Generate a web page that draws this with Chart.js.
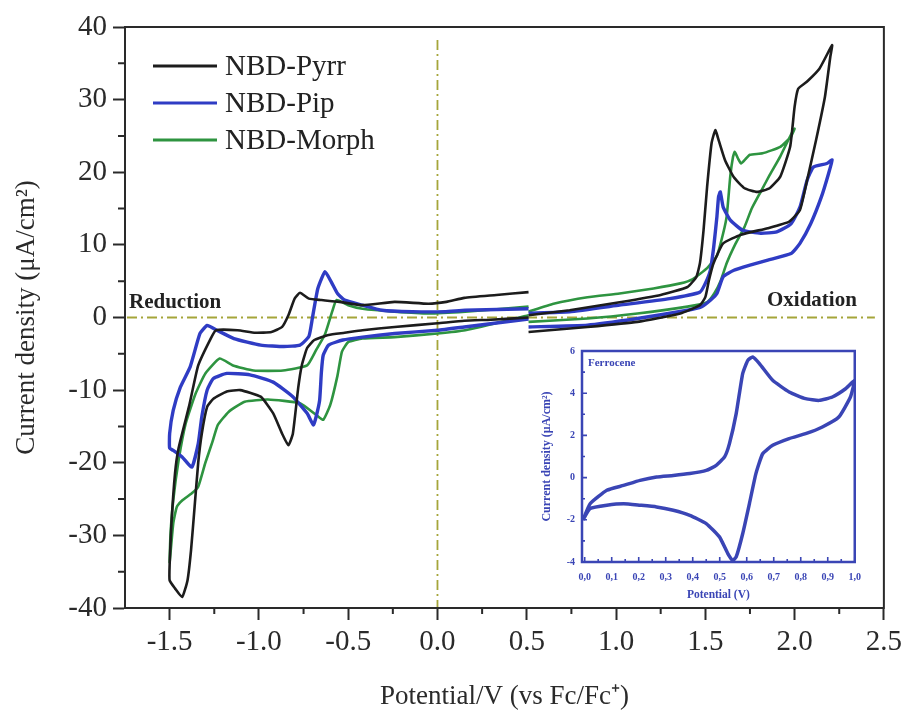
<!DOCTYPE html>
<html>
<head>
<meta charset="utf-8">
<title>NBD cyclic voltammetry</title>
<script src="https://cdn.jsdelivr.net/npm/chart.js@4.4.1/dist/chart.umd.min.js"></script>
<style>
  body { margin: 0; background: #fff; }
  #wrap { position: relative; width: 907px; height: 713px; }
  #mainChart { position: absolute; left: 0; top: 0; }
  #insetChart { position: absolute; left: 530px; top: 335px; }
</style>
</head>
<body>
<div id="wrap">
  <canvas id="mainChart" width="907" height="713"></canvas>
  <canvas id="insetChart" width="340" height="275"></canvas>
</div>
<script>
'use strict';

// potential (V vs Fc/Fc+) and current density (uA/cm2), reduction and oxidation sweeps
var pyrrRedV = [0.51, 0.30, 0.15, 0.00, -0.24, -0.42, -0.52, -0.61, -0.69, -0.73, -0.76, -0.78, -0.81, -0.835, -0.87, -0.92, -0.99, -1.105, -1.18, -1.255, -1.29, -1.32, -1.34, -1.36, -1.38, -1.40, -1.43, -1.47, -1.50, -1.50, -1.49, -1.47, -1.45, -1.39, -1.34, -1.27, -1.24, -1.12, -1.02, -0.93, -0.87, -0.835, -0.80, -0.77, -0.72, -0.65, -0.55, -0.42, -0.24, -0.05, 0.05, 0.15, 0.33, 0.51];
var pyrrRedJ = [0.0, -0.3, -0.45, -0.8, -1.3, -1.75, -2.1, -2.4, -3.1, -4.2, -6.6, -9.7, -16, -17.6, -16, -13.2, -10.9, -10.0, -10.2, -11.2, -12.3, -16, -20, -26, -32, -36.2, -38.5, -37.3, -36.2, -34, -28.4, -21.5, -18, -12.1, -6.6, -2.9, -1.75, -1.75, -2.1, -2.0, -1.3, 0.3, 2.6, 3.4, 2.6, 2.4, 2.15, 1.7, 2.15, 1.9, 2.15, 2.7, 3.1, 3.5];
var pyrrOxV = [0.51, 0.74, 1.02, 1.25, 1.40, 1.45, 1.47, 1.49, 1.51, 1.535, 1.556, 1.575, 1.61, 1.66, 1.72, 1.79, 1.86, 1.92, 1.975, 2.00, 2.02, 2.07, 2.14, 2.21, 2.20, 2.17, 2.12, 2.07, 2.03, 1.97, 1.85, 1.70, 1.60, 1.545, 1.52, 1.50, 1.47, 1.36, 1.12, 0.84, 0.51];
var pyrrOxJ = [0.3, 1.0, 2.1, 3.1, 4.2, 5.6, 7.5, 12, 18, 24, 25.8, 24.4, 21.7, 19.3, 17.8, 17.3, 17.8, 19.4, 23.5, 29, 31.5, 32.5, 34.3, 37.5, 35.9, 30.4, 24.4, 18.9, 14.8, 13.2, 12.3, 11.4, 10.2, 7.4, 5.1, 2.8, 1.7, 0.55, -0.6, -1.3, -2.0];

var pipRedV = [0.51, 0.15, 0.00, -0.24, -0.42, -0.53, -0.61, -0.64, -0.65, -0.66, -0.68, -0.695, -0.73, -0.81, -0.92, -1.05, -1.18, -1.255, -1.29, -1.32, -1.34, -1.376, -1.43, -1.48, -1.50, -1.50, -1.48, -1.44, -1.385, -1.33, -1.29, -1.235, -1.14, -0.99, -0.86, -0.77, -0.72, -0.70, -0.67, -0.63, -0.595, -0.56, -0.52, -0.42, -0.31, -0.14, 0.04, 0.155, 0.51];
var pipRedJ = [-0.2, -1.3, -1.75, -2.2, -2.7, -3.1, -3.8, -5.2, -7.5, -11.4, -13.7, -14.8, -13.2, -10.9, -8.9, -7.9, -7.7, -8.4, -10, -13.7, -17.4, -20.6, -19.2, -18.3, -18.0, -16, -12.8, -9.6, -6.8, -2.2, -1.1, -1.75, -2.9, -3.8, -4.0, -3.8, -2.6, 0.0, 4.0, 6.3, 4.9, 3.3, 2.4, 1.7, 1.0, 0.8, 0.8, 1.0, 1.2];
var pipOxV = [0.51, 0.74, 1.02, 1.30, 1.47, 1.50, 1.528, 1.547, 1.565, 1.574, 1.584, 1.60, 1.64, 1.71, 1.81, 1.90, 1.98, 2.03, 2.07, 2.105, 2.18, 2.21, 2.19, 2.15, 2.09, 2.03, 1.98, 1.85, 1.75, 1.66, 1.60, 1.565, 1.53, 1.48, 1.40, 1.12, 0.84, 0.51];
var pipOxJ = [0.6, 0.8, 1.7, 2.6, 3.5, 4.7, 6.5, 9.7, 13.9, 16.6, 17.3, 15.2, 13.4, 12.0, 11.6, 11.8, 12.9, 15.2, 18.9, 20.7, 21.2, 21.7, 19.8, 16.6, 12.9, 10.2, 8.8, 7.9, 7.2, 6.5, 5.6, 3.3, 2.4, 1.5, 1.0, -0.14, -1.06, -1.3];

var morphRedV = [0.51, 0.155, 0.00, -0.24, -0.42, -0.50, -0.535, -0.56, -0.60, -0.64, -0.675, -0.77, -0.95, -1.08, -1.17, -1.23, -1.26, -1.30, -1.34, -1.376, -1.43, -1.46, -1.48, -1.50, -1.495, -1.48, -1.45, -1.41, -1.355, -1.30, -1.22, -1.145, -1.03, -0.865, -0.73, -0.68, -0.63, -0.59, -0.565, -0.50, -0.42, -0.24, -0.05, 0.155, 0.51];
var morphRedJ = [0.3, -1.75, -2.2, -2.7, -2.9, -3.4, -4.7, -8, -12, -14.1, -13.5, -11.8, -11.3, -11.6, -13, -14.8, -17.1, -20, -23.3, -24.2, -25.2, -26.1, -28.4, -33.7, -29.8, -25.2, -19.7, -14.6, -10.5, -7.7, -5.65, -6.6, -7.3, -7.3, -6.6, -4.5, -2.3, 0.8, 2.4, 1.7, 1.2, 0.8, 0.55, 0.8, 1.5];
var morphOxV = [0.51, 0.65, 0.84, 1.02, 1.21, 1.36, 1.43, 1.51, 1.565, 1.60, 1.62, 1.64, 1.655, 1.665, 1.685, 1.70, 1.725, 1.75, 1.82, 1.92, 1.98, 2.00, 1.98, 1.92, 1.86, 1.81, 1.76, 1.72, 1.67, 1.62, 1.585, 1.55, 1.51, 1.40, 1.12, 0.84, 0.51];
var morphOxJ = [0.8, 1.9, 2.8, 3.3, 4.0, 4.7, 5.3, 6.8, 8.5, 11.6, 14.0, 19.5, 22.1, 22.8, 21.8, 21.2, 21.8, 22.4, 22.6, 23.5, 24.9, 26.0, 25.2, 22.2, 19.6, 17.3, 15.0, 12.5, 10.2, 7.5, 5.0, 3.3, 2.1, 1.5, 0.55, -0.14, -0.6];

// ferrocene reference scan (inset)
var fcV = [-0.006, 0.02, 0.082, 0.144, 0.205, 0.266, 0.328, 0.389, 0.45, 0.487, 0.518, 0.536, 0.561, 0.585, 0.604, 0.622, 0.647, 0.696, 0.757, 0.818, 0.868, 0.917, 0.966, 1.0, 0.984, 0.941, 0.88, 0.818, 0.757, 0.696, 0.659, 0.634, 0.61, 0.585, 0.561, 0.548, 0.53, 0.499, 0.45, 0.389, 0.328, 0.266, 0.205, 0.144, 0.082, 0.02, -0.006];
var fcJ = [-2.0, -1.24, -0.6, -0.37, -0.13, 0.03, 0.1, 0.19, 0.34, 0.58, 0.98, 1.61, 3.03, 4.93, 5.56, 5.72, 5.4, 4.61, 4.06, 3.74, 3.66, 3.82, 4.21, 4.6, 3.82, 2.87, 2.4, 2.08, 1.85, 1.53, 1.13, 0.19, -1.23, -2.66, -3.76, -3.92, -3.6, -2.81, -2.18, -1.79, -1.55, -1.39, -1.31, -1.24, -1.31, -1.47, -2.0];

var xTickValues = [-1.5, -1.0, -0.5, 0.0, 0.5, 1.0, 1.5, 2.0, 2.5];
var xMinorValues = [-1.25, -0.75, -0.25, 0.25, 0.75, 1.25, 1.75, 2.25];
var yTickValues = [-40, -30, -20, -10, 0, 10, 20, 30, 40];
var yMinorValues = [-35, -25, -15, -5, 5, 15, 25, 35];
var insetXTickValues = [0.0, 0.1, 0.2, 0.3, 0.4, 0.5, 0.6, 0.7, 0.8, 0.9, 1.0];
var insetXMinorValues = [0.05, 0.15, 0.25, 0.35, 0.45, 0.55, 0.65, 0.75, 0.85, 0.95];
var insetYTickValues = [-4, -2, 0, 2, 4, 6];
var insetYMinorValues = [-3, -1, 1, 3, 5];

var seriesNames = ['NBD-Pyrr', 'NBD-Pip', 'NBD-Morph'];
var seriesColors = ['#1c1c1c', '#2f3cc4', '#2e9440'];
var seriesWidths = [2.6, 3.4, 2.6];

var axisColor = '#2a2a2a';
var zeroColor = '#a5a53a';
var insetBlue = '#3a45b5';
var serif = "'Liberation Serif', 'Times New Roman', serif";

Chart.defaults.font.family = serif;
Chart.defaults.color = axisColor;

function toPoints(vs, js) {
    var pts = [];
    for (var i = 0; i < vs.length; i++) {
        pts.push({ x: vs[i], y: js[i] });
    }
    return pts;
}

function curve(vs, js, color, width) {
    return {
        data: toPoints(vs, js),
        showLine: true,
        borderColor: color,
        backgroundColor: color,
        borderWidth: width,
        pointRadius: 0,
        tension: 0.15,
        fill: false
    };
}

function asTicks(values) {
    return values.map(function (v) { return { value: v }; });
}

var mainDecor = {
    id: 'mainDecor',
    beforeDatasetsDraw: function (chart) {
        var ctx = chart.ctx;
        var area = chart.chartArea;
        var x0 = chart.scales.x.getPixelForValue(0);
        var y0 = chart.scales.y.getPixelForValue(0);
        ctx.save();
        ctx.strokeStyle = zeroColor;
        ctx.lineWidth = 1.8;
        ctx.setLineDash([10, 4, 2, 4]);
        ctx.beginPath();
        ctx.moveTo(area.left + 2, y0);
        ctx.lineTo(area.right - 9, y0);
        ctx.moveTo(x0, area.top + 13);
        ctx.lineTo(x0, area.bottom);
        ctx.stroke();
        ctx.restore();
    },
    afterDraw: function (chart) {
        var ctx = chart.ctx;
        var area = chart.chartArea;
        var xs = chart.scales.x;
        var ys = chart.scales.y;
        var i, p;
        ctx.save();

        // box round the plot
        ctx.strokeStyle = axisColor;
        ctx.lineWidth = 2;
        ctx.strokeRect(area.left, area.top, area.right - area.left, area.bottom - area.top);

        // minor ticks
        ctx.beginPath();
        for (i = 0; i < xMinorValues.length; i++) {
            p = xs.getPixelForValue(xMinorValues[i]);
            ctx.moveTo(p, area.bottom);
            ctx.lineTo(p, area.bottom + 6);
        }
        for (i = 0; i < yMinorValues.length; i++) {
            p = ys.getPixelForValue(yMinorValues[i]);
            ctx.moveTo(area.left - 7, p);
            ctx.lineTo(area.left, p);
        }
        ctx.stroke();

        // legend
        ctx.font = '29px ' + serif;
        ctx.textBaseline = 'middle';
        ctx.textAlign = 'left';
        for (i = 0; i < seriesNames.length; i++) {
            var ly = area.top + 39 + i * 37;
            ctx.strokeStyle = seriesColors[i];
            ctx.lineWidth = 3;
            ctx.beginPath();
            ctx.moveTo(area.left + 28, ly);
            ctx.lineTo(area.left + 92, ly);
            ctx.stroke();
            ctx.fillStyle = '#222';
            ctx.fillText(seriesNames[i], area.left + 100, ly + 1);
        }

        // region labels
        ctx.font = 'bold 21px ' + serif;
        ctx.textBaseline = 'alphabetic';
        ctx.fillStyle = '#222';
        ctx.textAlign = 'left';
        ctx.fillText('Reduction', area.left + 4, ys.getPixelForValue(0) - 10);
        ctx.textAlign = 'right';
        ctx.fillText('Oxidation', area.right - 27, ys.getPixelForValue(0) - 12);
        ctx.restore();
    }
};

var insetDecor = {
    id: 'insetDecor',
    afterDraw: function (chart) {
        var ctx = chart.ctx;
        var area = chart.chartArea;
        var xs = chart.scales.x;
        var ys = chart.scales.y;
        var i, p;
        ctx.save();
        ctx.strokeStyle = insetBlue;
        ctx.lineWidth = 2.5;
        ctx.strokeRect(area.left, area.top, area.right - area.left, area.bottom - area.top);

        ctx.lineWidth = 1.6;
        ctx.beginPath();
        for (i = 0; i < insetXTickValues.length; i++) {
            p = xs.getPixelForValue(insetXTickValues[i]);
            ctx.moveTo(p, area.bottom);
            ctx.lineTo(p, area.bottom - 5);
        }
        for (i = 0; i < insetXMinorValues.length; i++) {
            p = xs.getPixelForValue(insetXMinorValues[i]);
            ctx.moveTo(p, area.bottom);
            ctx.lineTo(p, area.bottom - 3);
        }
        for (i = 0; i < insetYTickValues.length; i++) {
            p = ys.getPixelForValue(insetYTickValues[i]);
            ctx.moveTo(area.left, p);
            ctx.lineTo(area.left + 5, p);
        }
        for (i = 0; i < insetYMinorValues.length; i++) {
            p = ys.getPixelForValue(insetYMinorValues[i]);
            ctx.moveTo(area.left, p);
            ctx.lineTo(area.left + 3, p);
        }
        ctx.stroke();

        ctx.fillStyle = insetBlue;
        ctx.font = 'bold 11px ' + serif;
        ctx.textBaseline = 'middle';
        ctx.textAlign = 'left';
        ctx.fillText('Ferrocene', area.left + 6, area.top + 12);
        ctx.restore();
    }
};

var mainChart = new Chart(document.getElementById('mainChart').getContext('2d'), {
    type: 'scatter',
    data: {
        datasets: [
            curve(pyrrRedV, pyrrRedJ, seriesColors[0], seriesWidths[0]),
            curve(pyrrOxV, pyrrOxJ, seriesColors[0], seriesWidths[0]),
            curve(pipRedV, pipRedJ, seriesColors[1], seriesWidths[1]),
            curve(pipOxV, pipOxJ, seriesColors[1], seriesWidths[1]),
            curve(morphRedV, morphRedJ, seriesColors[2], seriesWidths[2]),
            curve(morphOxV, morphOxJ, seriesColors[2], seriesWidths[2])
        ]
    },
    options: {
        responsive: false,
        animation: false,
        layout: { padding: { left: 0, top: 27, right: 23, bottom: 0 } },
        plugins: { legend: { display: false }, tooltip: { enabled: false } },
        scales: {
            x: {
                type: 'linear',
                bounds: 'data',
                min: -1.75,
                max: 2.5,
                afterBuildTicks: function (scale) { scale.ticks = asTicks(xTickValues); },
                afterFit: function (scale) { scale.height = 105; },
                grid: { drawOnChartArea: false, drawTicks: true, tickLength: 12, tickWidth: 2, tickColor: axisColor },
                border: { display: true, width: 2, color: axisColor },
                ticks: {
                    autoSkip: false, maxRotation: 0, padding: 5, color: axisColor,
                    font: { size: 29 },
                    callback: function (value) { return value.toFixed(1); }
                },
                title: {
                    display: true, text: 'Potential/V (vs Fc/Fc\u207A)', color: axisColor,
                    font: { size: 27 }, padding: { top: 0, bottom: 0 }
                }
            },
            y: {
                type: 'linear',
                bounds: 'data',
                min: -40,
                max: 40,
                afterBuildTicks: function (scale) { scale.ticks = asTicks(yTickValues); },
                afterFit: function (scale) { scale.width = 125; },
                grid: { drawOnChartArea: false, drawTicks: true, tickLength: 12, tickWidth: 2, tickColor: axisColor },
                border: { display: true, width: 2, color: axisColor },
                ticks: {
                    autoSkip: false, padding: 6, color: axisColor,
                    font: { size: 29 },
                    callback: function (value) { return String(value); }
                },
                title: {
                    display: true, text: 'Current density (\u03BCA/cm\u00B2)', color: axisColor,
                    font: { size: 27 }, padding: { top: 11, bottom: 0 }
                }
            }
        }
    },
    plugins: [mainDecor]
});

var insetChart = new Chart(document.getElementById('insetChart').getContext('2d'), {
    type: 'scatter',
    data: {
        datasets: [curve(fcV, fcJ, insetBlue, 3.5)]
    },
    options: {
        responsive: false,
        animation: false,
        layout: { padding: { left: 0, top: 16, right: 14, bottom: 0 } },
        plugins: { legend: { display: false }, tooltip: { enabled: false } },
        scales: {
            x: {
                type: 'linear',
                bounds: 'data',
                min: -0.01,
                max: 1.0,
                afterBuildTicks: function (scale) { scale.ticks = asTicks(insetXTickValues); },
                afterFit: function (scale) { scale.height = 48; },
                grid: { display: false, drawTicks: false },
                border: { display: false },
                ticks: {
                    autoSkip: false, maxRotation: 0, padding: 9, color: insetBlue,
                    font: { size: 10, weight: 'bold' },
                    callback: function (value) { return value.toFixed(1).replace('.', ','); }
                },
                title: {
                    display: true, text: 'Potential (V)', color: insetBlue,
                    font: { size: 11.5, weight: 'bold' }, padding: { top: 0, bottom: 8 }
                }
            },
            y: {
                type: 'linear',
                bounds: 'data',
                min: -4,
                max: 6,
                afterBuildTicks: function (scale) { scale.ticks = asTicks(insetYTickValues); },
                afterFit: function (scale) { scale.width = 52; },
                grid: { display: false, drawTicks: false },
                border: { display: false },
                ticks: {
                    autoSkip: false, padding: 7, color: insetBlue,
                    font: { size: 10, weight: 'bold' },
                    callback: function (value) { return String(value); }
                },
                title: {
                    display: true, text: 'Current density (\u03BCA/cm\u00B2)', color: insetBlue,
                    font: { size: 12, weight: 'bold' }, padding: { top: 10, bottom: 0 }
                }
            }
        }
    },
    plugins: [insetDecor]
});
</script>
</body>
</html>
